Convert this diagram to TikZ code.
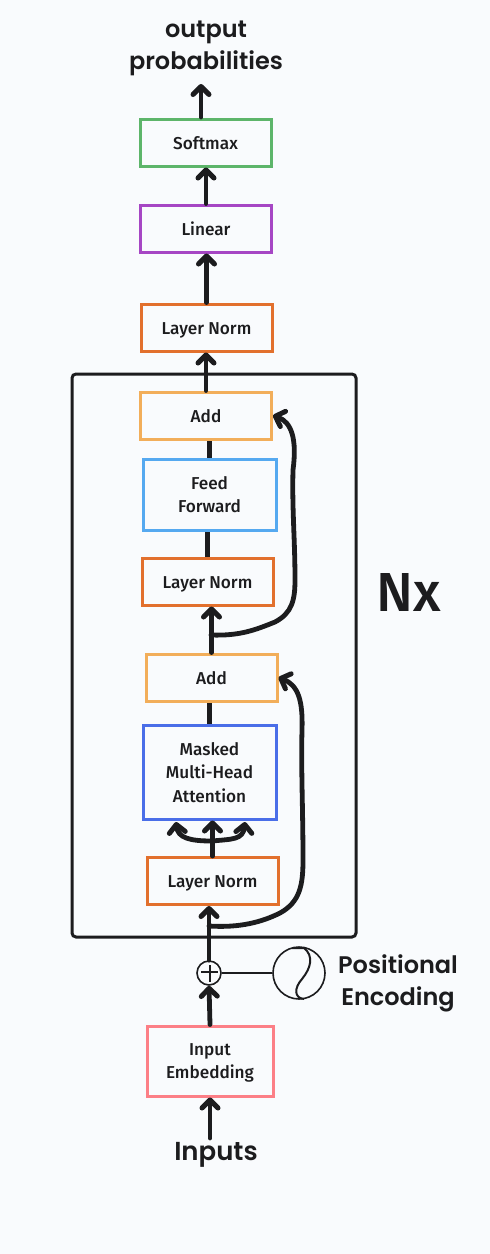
\documentclass[tikz,border=0pt]{standalone}
\usepackage{fontspec}
\usetikzlibrary{arrows.meta}
\newfontfamily\boxfont{Fira Sans Medium}
\newfontfamily\handfont{Poppins SemiBold}
\definecolor{paper}{HTML}{F9FBFD}
\definecolor{ink}{HTML}{1C1C1E}
\definecolor{softgreen}{HTML}{5DB56A}
\definecolor{linearpurple}{HTML}{A646C4}
\definecolor{normorange}{HTML}{E2702D}
\definecolor{addorange}{HTML}{F2AE5A}
\definecolor{feedblue}{HTML}{55A9F0}
\definecolor{attnblue}{HTML}{4A6EE8}
\definecolor{embedpink}{HTML}{FC7F86}
\tikzset{
	layer/.style={draw, line width=3pt, minimum width=131pt, align=center, inner sep=0pt, text depth=0pt,
		text=ink, font=\boxfont\fontsize{17.2}{23.5}\selectfont},
	oneline/.style={layer, minimum height=47pt, text height=13.6pt},
	hand/.style={align=center, text=ink, inner sep=0pt, font=\handfont\fontsize{24}{32}\selectfont},
	flow/.style={draw=ink, line width=4.8pt, line cap=round, -{Straight Barb[round, length=8pt, width=16pt, line width=5pt]}},
	link/.style={draw=ink, line width=4.8pt},
	thin link/.style={draw=ink, line width=2pt},
}
\begin{document}
\begin{tikzpicture}[x=1pt, y=-1pt]
		\fill[paper] (0, 0) rectangle (490, 1254);

		\node[hand] (output) at (206, 48) {output\\probabilities};
		\node[oneline, draw=softgreen] (softmax) at (205.5, 142.5) {Softmax};
		\node[oneline, draw=linearpurple] (linear) at (206, 228.5) {Linear};
		\node[oneline, draw=normorange] (normtop) at (206.5, 327.5) {Layer Norm};
		\node[oneline, draw=addorange] (addtop) at (206, 415.5) {Add};
		\node[layer, draw=feedblue, minimum width=133pt, minimum height=71pt] (feed) at (209.5, 494.5) {Feed\\Forward};
		\node[oneline, draw=normorange] (normmid) at (207.5, 581.5) {Layer Norm};
		\node[oneline, draw=addorange] (addlow) at (211.5, 677.5) {Add};
		\node[layer, draw=attnblue, minimum width=133pt, minimum height=94pt] (masked) at (209.5, 772) {Masked\\Multi-Head\\Attention};
		\node[oneline, draw=normorange] (normlow) at (212.5, 881) {Layer Norm};
		\node[layer, draw=embedpink, minimum width=126pt, minimum height=70pt] (embed) at (210, 1061) {Input\\Embedding};
		\node[hand, font=\handfont\fontsize{26}{32}\selectfont] (inputs) at (216, 1155) {Inputs};
		\node[hand] (posenc) at (398, 983) {Positional\\Encoding};
		\node[text=ink, inner sep=0pt, font=\boxfont\fontsize{55}{55}\selectfont] (nx) at (409, 592) {Nx};

		\node[draw=ink, line width=1.6pt, circle, minimum size=24pt, inner sep=0pt] (plus) at (209, 973) {};
		\node[draw=ink, line width=1.6pt, circle, minimum size=52pt, inner sep=0pt] (wave) at (299, 973) {};

		\draw[draw=ink, line width=3pt, rounded corners=4pt] (72, 374) rectangle (356, 937);

		% plus sign and the curve inside the circle
		\draw[draw=ink, line width=2.4pt] (201, 972) -- (218, 972) (210, 965) -- (210, 982);
		\draw[draw=ink, line width=2pt] (292, 948) -- (304, 948) .. controls (314, 956) and (311, 968) .. (302, 979)
			.. controls (294, 988) and (294, 998) .. (304, 999);

		\coordinate (outtip) at (201, 84);
		\coordinate (outfoot) at (201, 117);
		\coordinate (intip) at (210, 1138);
		\coordinate (skiphigh) at (211, 635);
		\coordinate (skiplow) at (209, 926);
		\coordinate (fanleft) at (176, 822);
		\coordinate (fanright) at (245, 822);
		\coordinate (fanmid) at (212, 841);

		\draw[flow] (intip) -- (embed.south);
		\draw[flow] (embed.north) -- (plus.south);
		\draw[flow] (plus.north) -- (plus.north |- normlow.south);
		\draw[flow] (normlow.north) -- (normlow.north |- masked.south);
		\draw[flow] (fanmid) .. controls (190, 841) and (178, 838) .. (fanleft);
		\draw[flow] (fanmid) .. controls (232, 839) and (243, 840) .. (fanright);
		\draw[link] (masked.north) -- (masked.north |- addlow.south);
		\draw[flow] (addlow.north) -- (addlow.north |- normmid.south);
		\draw[link] (normmid.north) -- (normmid.north |- feed.south);
		\draw[link] (feed.north) -- (feed.north |- addtop.south);
		\draw[flow] (addtop.north) -- (addtop.north |- normtop.south);
		\draw[flow] (normtop.north) -- (normtop.north |- linear.south);
		\draw[flow] (linear.north) -- (linear.north |- softmax.south);
		\draw[flow] (outfoot) -- (outtip);

		\draw[thin link] (plus.east) -- (wave.west);

		\draw[flow] (skiplow) .. controls (240, 928) and (262, 922) .. (280, 913)
			.. controls (300, 902) and (303, 885) .. (303, 860)
			.. controls (303, 810) and (301, 770) .. (302, 730)
			.. controls (303, 700) and (298, 685) .. (addlow.east);
		\draw[flow] (skiphigh) .. controls (240, 636) and (255, 630) .. (275, 622)
			.. controls (292, 613) and (295, 600) .. (295, 580)
			.. controls (295, 540) and (292, 510) .. (293, 470)
			.. controls (297, 440) and (292, 422) .. (addtop.east);
\end{tikzpicture}
\end{document}
